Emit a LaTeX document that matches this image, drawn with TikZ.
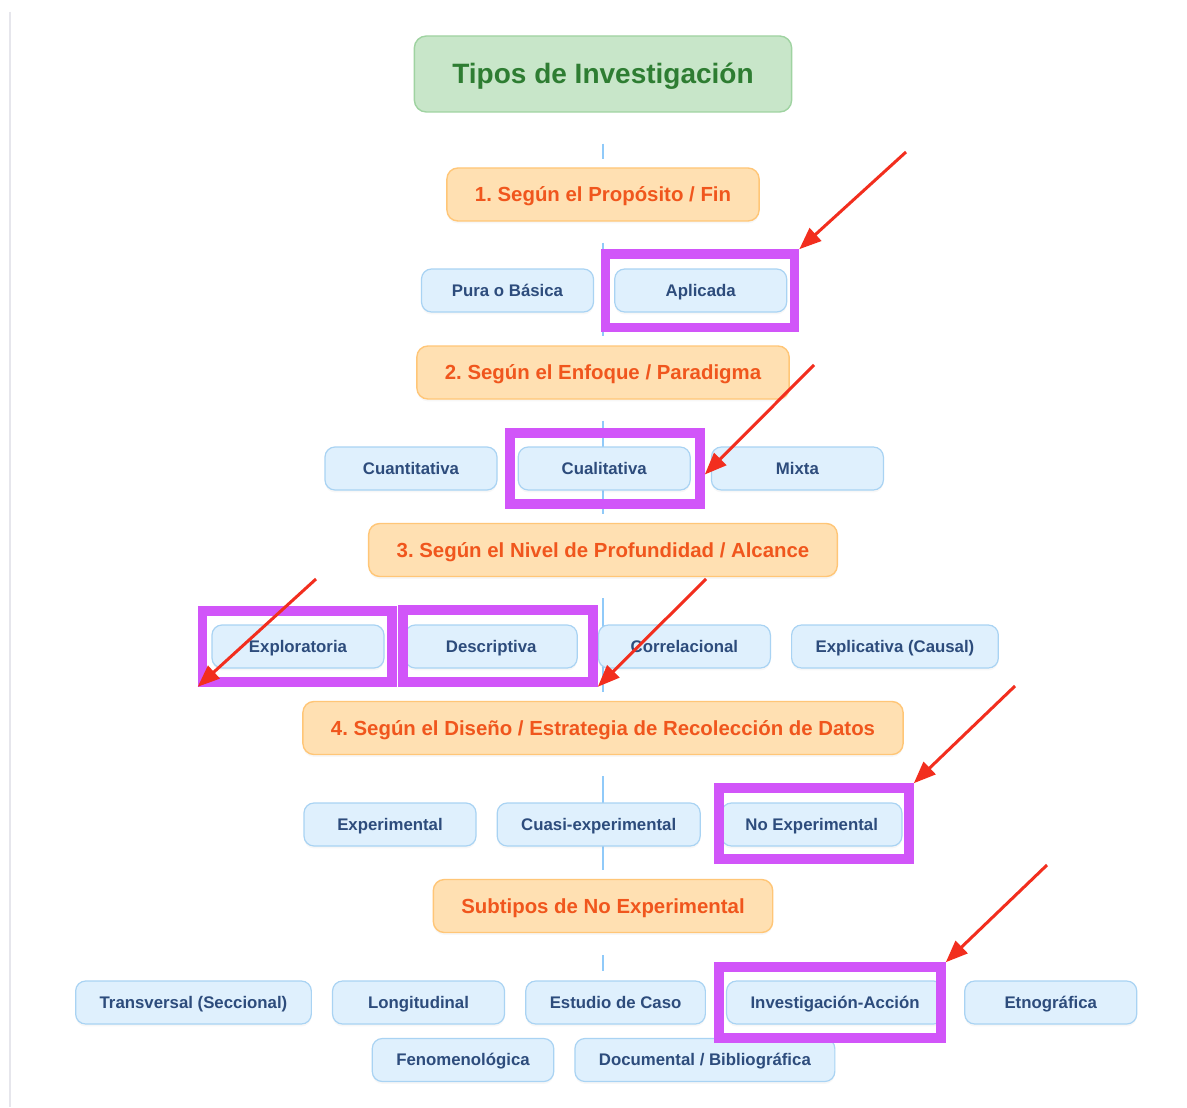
\documentclass[tikz,border=0pt]{standalone}
\usepackage{fontspec}
\setsansfont{Liberation Sans}
\usetikzlibrary{arrows.meta, positioning, backgrounds, shadows}

\definecolor{rootfill}{HTML}{C8E6C9}
\definecolor{rootline}{HTML}{9FD3A1}
\definecolor{roottext}{HTML}{2E7D32}
\definecolor{catfill}{HTML}{FFE0B2}
\definecolor{catline}{HTML}{FFC677}
\definecolor{cattext}{HTML}{F0561D}
\definecolor{leaffill}{HTML}{DFF0FD}
\definecolor{leafline}{HTML}{A9D3F3}
\definecolor{leaftext}{HTML}{2D4C7C}
\definecolor{linkblue}{HTML}{90CAF9}
\definecolor{hlpurple}{HTML}{D155F9}
\definecolor{arrowred}{HTML}{F22E1E}
\definecolor{pageline}{HTML}{E6E6EC}

\begin{document}
\frenchspacing
\begin{tikzpicture}[
  x=0.5pt, y=-0.5pt,
  root/.style={draw=rootline, fill=rootfill, text=roottext, rounded corners=6pt,
               line width=0.7pt, minimum height=38pt, inner xsep=19pt,
               text height=10pt, text depth=0pt,
               font=\sffamily\bfseries\fontsize{14}{16}\selectfont},
  cat/.style={draw=catline, fill=catfill, text=cattext, rounded corners=5.5pt,
              line width=0.7pt, minimum height=26.5pt, inner xsep=14pt,
              text height=7.4pt, text depth=0.3pt,
              drop shadow={opacity=0.06, shadow xshift=0pt, shadow yshift=-1.2pt},
              font=\sffamily\bfseries\fontsize{10.2}{12}\selectfont},
  leaf/.style={draw=leafline, fill=leaffill, text=leaftext, rounded corners=5pt,
               line width=0.6pt, minimum height=21.5pt, minimum width=86pt, inner xsep=12pt,
               text height=6.1pt, text depth=0.3pt,
               drop shadow={opacity=0.06, shadow xshift=0pt, shadow yshift=-1.2pt},
               font=\sffamily\bfseries\fontsize{8.4}{10}\selectfont},
  link/.style={draw=linkblue, line width=1pt},
  hl/.style={draw=hlpurple, line width=4.8pt, inner sep=0pt},
  pointer/.style={-{Triangle[length=11pt,width=8.5pt]}, line width=1.5pt, draw=arrowred},
  node distance=10pt
]
\useasboundingbox (0,0) rectangle (1187,1107);

% main levels
\node[root] (root) at (603,74) {Tipos de Investigación};
\node[cat] (fin) at (603,194.5) {1. Según el Propósito / Fin};
\node[cat] (enfoque) at (603,372.5) {2. Según el Enfoque / Paradigma};
\node[cat] (nivel) at (603,550) {3. Según el Nivel de Profundidad / Alcance};
\node[cat] (diseno) at (603,728) {4. Según el Diseño / Estrategia de Recolección de Datos};
\node[cat] (subtipos) at (603,906) {Subtipos de No Experimental};

% options per level
\node[leaf] (pura) at (507.5,290.5) {Pura o Básica};
\node[leaf, right=of pura] (aplicada) {Aplicada};

\node[leaf] (cuanti) at (411,468.5) {Cuantitativa};
\node[leaf, right=of cuanti] (cuali) {Cualitativa};
\node[leaf, right=of cuali] (mixta) {Mixta};

\node[leaf] (explo) at (298,646.5) {Exploratoria};
\node[leaf, right=of explo] (descr) {Descriptiva};
\node[leaf, right=of descr] (correl) {Correlacional};
\node[leaf, right=of correl] (explic) {Explicativa (Causal)};

\node[leaf] (experim) at (390,824.5) {Experimental};
\node[leaf, right=of experim] (cuasi) {Cuasi-experimental};
\node[leaf, right=of cuasi] (noexp) {No Experimental};

\node[leaf] (transv) at (193.5,1002.5) {Transversal (Seccional)};
\node[leaf, right=of transv] (longit) {Longitudinal};
\node[leaf, right=of longit] (caso) {Estudio de Caso};
\node[leaf, right=of caso] (invacc) {Investigación-Acción};
\node[leaf, right=of invacc] (etnog) {Etnográfica};
\node[leaf] (fenom) at (463,1060) {Fenomenológica};
\node[leaf, right=of fenom] (docum) {Documental / Bibliográfica};

% tree links, behind the boxes
\coordinate (lastrow) at (subtipos.south |- caso.north);
\begin{scope}[on background layer]
  \fill[white] (0,0) rectangle (1187,1107);
  \draw[pageline, line width=0.75pt] (10,12) -- (10,1107);
  \draw[link, shorten <=15.5pt, shorten >=4pt] (root.south) -- (fin.north);
  \foreach \a/\b in {fin/enfoque, enfoque/nivel, nivel/diseno, diseno/subtipos}
    \draw[link, shorten <=10.5pt, shorten >=4.5pt] (\a.south) -- (\b.north);
  \draw[link, shorten <=11pt, shorten >=4.5pt] (subtipos.south) -- (lastrow);
\end{scope}

% marks
\node[hl, minimum width=94.5pt, minimum height=36.75pt] (mkapl) at (700,290.75) {};
\node[hl, minimum width=95pt, minimum height=35.5pt] (mkcuali) at (605,468.5) {};
\node[hl, minimum width=94.75pt, minimum height=35.5pt] (mkexplo) at (297.25,646.5) {};
\node[hl, minimum width=95pt, minimum height=36pt] (mkdescr) at (498,646) {};
\node[hl, minimum width=95pt, minimum height=35.5pt] (mknoexp) at (814,823.5) {};
\node[hl, minimum width=111pt, minimum height=35.5pt] (mkinvacc) at (830,1002.5) {};

\coordinate (tapl) at (906,152);
\coordinate (tcuali) at (814,365);
\coordinate (texplo) at (316,579);
\coordinate (tdescr) at (706,579);
\coordinate (tnoexp) at (1015,686);
\coordinate (tinvacc) at (1047,865);

\draw[pointer] (tapl) -- (mkapl.north east);
\draw[pointer] (tcuali) -- ([yshift=-3pt]mkcuali.east);
\draw[pointer] (texplo) -- (mkexplo.south west);
\draw[pointer] (tdescr) -- (mkdescr.south east);
\draw[pointer] (tnoexp) -- (mknoexp.north east);
\draw[pointer] (tinvacc) -- (mkinvacc.north east);
\end{tikzpicture}
\end{document}
